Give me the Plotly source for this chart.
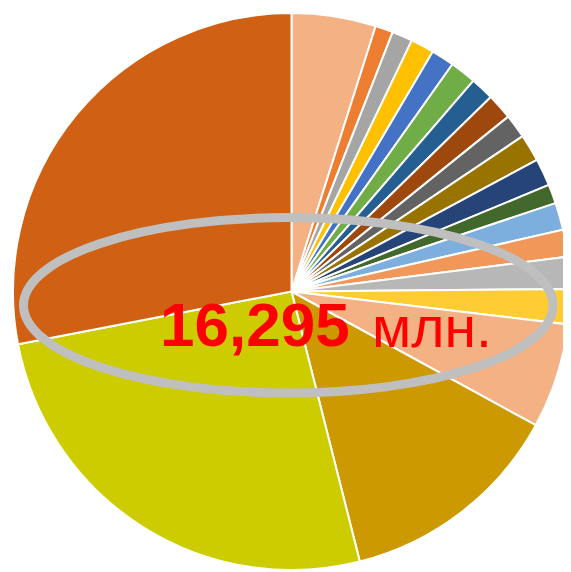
import plotly.graph_objects as go

# Slice shares (clockwise from 12 o'clock)
labels = [f"S{i}" for i in range(1, 21)]
values = [17.6, 3.7, 4.3, 4.9, 4.8, 5.5, 4.9, 5.4, 5.0, 5.7,
          5.7, 4.0, 5.7, 5.6, 6.7, 7.3, 21.9, 47.1, 93.3, 100.9]
colors = ["#F4B183", "#ED7D31", "#A5A5A5", "#FFC000", "#4472C4", "#70AD47",
          "#255E91", "#9E480E", "#636363", "#997300", "#264478", "#43682B",
          "#7CAFDD", "#F1975A", "#B7B7B7", "#FFCD33", "#F4B183", "#CC9900",
          "#CCCC00", "#D06014"]
total_text = "16,295"
unit_text = "млн."

fig = go.Figure(go.Pie(
    labels=labels, values=values, sort=False, direction="clockwise", rotation=0,
    marker=dict(colors=colors, line=dict(color="white", width=2)),
    textinfo="none", hoverinfo="none", showlegend=False,
))

OFF = 8  # default page body margin
W, H = 571 - OFF, 572 - OFF
L, T, R, B = 12 - OFF, 13 - OFF, 0, 2
pw, ph = W - L - R, H - T - B

def px(x):
    return (x - OFF - L) / pw

def py(y):
    return 1 - (y - OFF - T) / ph

fig.add_shape(type="circle", xref="paper", yref="paper",
              x0=px(23.5), x1=px(553), y0=py(393), y1=py(217.5),
              line=dict(color="#BFBFBF", width=9))

fig.add_annotation(xref="paper", yref="paper", x=px(352), y=py(361),
                   xanchor="right", yanchor="bottom", showarrow=False,
                   text=f"<b>{total_text}</b>",
                   font=dict(family="Liberation Sans, Arial", size=62, color="#FF0000"))
fig.add_annotation(xref="paper", yref="paper", x=px(370), y=py(361),
                   xanchor="left", yanchor="bottom", showarrow=False,
                   text=unit_text,
                   font=dict(family="Liberation Sans, Arial", size=57, color="#FF0000"))

fig.update_layout(width=W, height=H, margin=dict(l=L, r=R, t=T, b=B),
                  paper_bgcolor="white", plot_bgcolor="white")
fig.write_html("out.html")
